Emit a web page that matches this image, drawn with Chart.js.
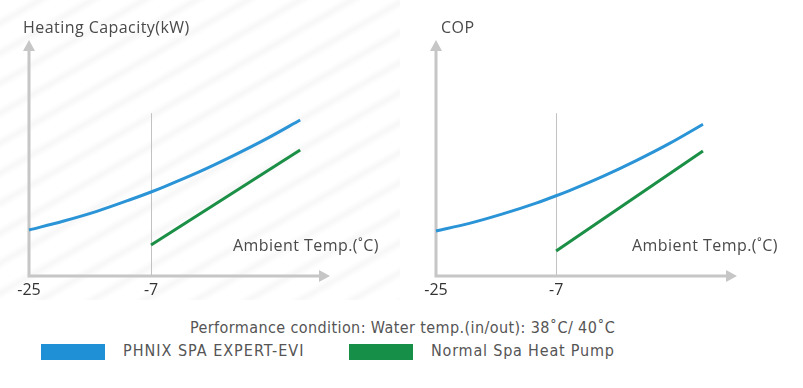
<!DOCTYPE html>
<html>
<head>
<meta charset="utf-8">
<script src="https://cdn.jsdelivr.net/npm/chart.js@4.4.1/dist/chart.umd.min.js"></script>
<style>
  body { margin: 0; width: 803px; height: 388px; position: relative; overflow: hidden; background: #fff; font-family: 'Open Sans', sans-serif; color: #4a4a4a; }
  .bg-left { position: absolute; left: 0; top: 0; width: 400px; height: 300px;
    background: repeating-linear-gradient(150deg, #ffffff 0px, #ffffff 14px, #f7f7f7 20px, #ffffff 26px); }
  .panel { position: absolute; top: 0; height: 310px; }
  .txt { position: absolute; white-space: nowrap; font-size: 16px; line-height: 18px; letter-spacing: 0.45px; }
  .foot { position: absolute; white-space: nowrap; font-family: 'DejaVu Sans Condensed', 'Open Sans', sans-serif; font-size: 16px; line-height: 18px; color: #555; }
  .swatch { position: absolute; width: 64px; height: 16px; }
</style>
</head>
<body>
<div class="bg-left"></div>
<div class="panel" style="left:0;width:400px"><canvas id="capChart"></canvas></div>
<div class="panel" style="left:400px;width:403px"><canvas id="copChart"></canvas></div>

<div class="txt" style="left:23px;top:18px">Heating Capacity(kW)</div>
<div class="txt" style="left:441px;top:18px">COP</div>
<div class="txt" style="left:233px;top:236px">Ambient Temp.(˚C)</div>
<div class="txt" style="left:632px;top:236px">Ambient Temp.(˚C)</div>

<div class="foot" style="left:190px;top:319px;letter-spacing:0.4px">Performance condition: Water temp.(in/out): 38˚C/ 40˚C</div>
<div class="swatch" style="left:41px;top:344px;background:#1f8fd6"></div>
<div class="foot" style="left:123px;top:342px;letter-spacing:1px">PHNIX SPA EXPERT-EVI</div>
<div class="swatch" style="left:349px;top:344px;background:#168f48"></div>
<div class="foot" style="left:431px;top:342px;letter-spacing:0.8px">Normal Spa Heat Pump</div>

<script>
// ambient temperature points (°C)
const temps = [-25, -20, -15, -10, -7, -5, 0, 5, 10, 15];
const normalTemps = [-7, 15];
// relative values (y axis 0..10)
const capacityEvi = [1.95, 2.32, 2.74, 3.24, 3.56, 3.79, 4.40, 5.08, 5.81, 6.61];
const capacityNormal = [1.31, 5.34];
const copEvi = [1.91, 2.23, 2.63, 3.09, 3.40, 3.62, 4.22, 4.89, 5.62, 6.43];
const copNormal = [1.06, 5.30];
const tickLabels = [-25, -7];
const markerTemp = -7;
const markerTop = 6.9;

const BLUE = '#2a94d6';
const GREEN = '#1a8f45';
const AXIS = '#c6c6c6';

const pts = (xs, ys) => xs.map((x, i) => ({ x: x, y: ys[i] }));

// arrows for the axes and the thin marker line at -7
const arrowAxes = {
  id: 'arrowAxes',
  beforeDatasetsDraw(chart) {
    const { ctx, chartArea: a, scales: { x, y } } = chart;
    ctx.save();
    // marker line
    const mx = Math.round(x.getPixelForValue(markerTemp)) + 0.5;
    ctx.strokeStyle = '#c2c2c2';
    ctx.lineWidth = 1;
    ctx.beginPath();
    ctx.moveTo(mx, y.getPixelForValue(markerTop));
    ctx.lineTo(mx, a.bottom);
    ctx.stroke();
    // axes
    ctx.strokeStyle = AXIS;
    ctx.fillStyle = AXIS;
    ctx.lineWidth = 3;
    ctx.beginPath();
    ctx.moveTo(a.left, a.top + 8);
    ctx.lineTo(a.left, a.bottom);
    ctx.lineTo(a.right - 8, a.bottom);
    ctx.stroke();
    ctx.beginPath();
    ctx.moveTo(a.left, a.top);
    ctx.lineTo(a.left - 6, a.top + 11);
    ctx.lineTo(a.left + 6, a.top + 11);
    ctx.closePath();
    ctx.fill();
    ctx.beginPath();
    ctx.moveTo(a.right, a.bottom);
    ctx.lineTo(a.right - 11, a.bottom - 6);
    ctx.lineTo(a.right - 11, a.bottom + 6);
    ctx.closePath();
    ctx.fill();
    ctx.restore();
  }
};

function makeChart(id, evi, normal, xMax, pad) {
  return new Chart(document.getElementById(id), {
    type: 'line',
    data: {
      datasets: [
        { label: 'PHNIX SPA EXPERT-EVI', data: pts(temps, evi), borderColor: BLUE, borderWidth: 3,
          pointRadius: 0, cubicInterpolationMode: 'monotone', clip: false },
        { label: 'Normal Spa Heat Pump', data: pts(normalTemps, normal), borderColor: GREEN, borderWidth: 3,
          pointRadius: 0, clip: false }
      ]
    },
    options: {
      responsive: true,
      maintainAspectRatio: false,
      animation: false,
      layout: { padding: pad },
      plugins: { legend: { display: false }, tooltip: { enabled: false } },
      scales: {
        x: {
          type: 'linear', min: -25, max: xMax,
          grid: { display: false, drawTicks: false },
          border: { display: false },
          afterBuildTicks: (s) => { s.ticks = tickLabels.map(v => ({ value: v })); },
          afterFit: (s) => { s.height = 30; },
          ticks: { padding: 5, color: '#333', font: { family: 'Open Sans', size: 16 }, maxRotation: 0,
            callback: (v) => String(v) }
        },
        y: { display: false, min: 0, max: 10 }
      }
    },
    plugins: [arrowAxes]
  });
}

makeChart('capChart', capacityEvi, capacityNormal, 19.4, { left: 29, right: 70, top: 40, bottom: 4 });
makeChart('copChart', copEvi, copNormal, 20.1, { left: 36, right: 66, top: 40, bottom: 4 });
</script>
</body>
</html>
